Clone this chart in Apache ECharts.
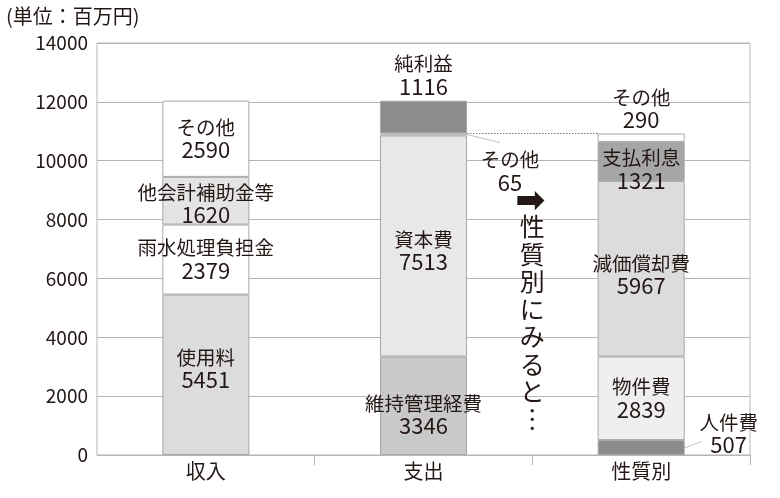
<!DOCTYPE html>
<html>
<head>
<meta charset="utf-8">
<script src="https://cdn.jsdelivr.net/npm/echarts@6/dist/echarts.min.js"></script>
<style>
  html, body { margin: 0; padding: 0; background: #fff; }
  #main { width: 780px; height: 498px; }
</style>
</head>
<body>
<div id="main"></div>
<script>
// データ（単位：百万円）
var categories = ['収入', '支出', '性質別'];
var incomeNames = ['使用料', '雨水処理負担金', '他会計補助金等', 'その他'];
var incomeValues = [5451, 2379, 1620, 2590];
var spendNames = ['維持管理経費', '資本費', 'その他', '純利益'];
var spendValues = [3346, 7513, 65, 1116];
var natureNames = ['人件費', '物件費', '減価償却費', '支払利息', 'その他'];
var natureValues = [507, 2839, 5967, 1321, 290];
var yMin = 0, yMax = 14000, yStep = 2000;

var incomeColors = ['#dcdcdc', '#ffffff', '#e4e4e4', '#ffffff'];
var spendColors = ['#c9c9c9', '#e8e8e8', '#ffffff', '#8c8c8c'];
var natureColors = ['#8c8c8c', '#efefef', '#dcdcdc', '#a6a6a6', '#ffffff'];

var FONT = '"Noto Sans CJK JP", "Noto Sans", sans-serif';
var INK = '#231815';

// 個別ラベル位置
var incomeLabels = {
  0: { offset: [0, -6] },
  2: { offset: [0, 3] }
};
var spendLabels = {
  0: { offset: [0, 9] },
  1: { offset: [0, 5] },
  2: { position: [130, 38], align: 'center', verticalAlign: 'middle' },
  3: { position: 'top', distance: 3 }
};
var natureLabels = {
  0: { position: [131, -6], align: 'center', verticalAlign: 'middle' },
  2: { offset: [0, 6] },
  3: { offset: [0, 8] },
  4: { position: 'top', distance: 2 }
};

function makeSeries(catIndex, names, values, colors, special) {
  return names.map(function (n, i) {
    var label = {
      show: true, position: 'inside', formatter: '{n|{a}}\n{v|{c}}',
      color: INK, fontFamily: FONT,
      rich: {
        n: { fontFamily: FONT, fontSize: 19.5, lineHeight: 22, color: INK },
        v: { fontFamily: FONT, fontSize: 22, lineHeight: 23, color: INK }
      }
    };
    var extra = special[i] || {};
    for (var k in extra) label[k] = extra[k];
    return {
      name: n,
      type: 'bar',
      stack: 'total',
      barWidth: '40%',
      itemStyle: { color: colors[i], borderColor: '#a8a8a8', borderWidth: 1 },
      label: label,
      data: categories.map(function (c, j) { return j === catIndex ? values[i] : '-'; })
    };
  });
}

var series = []
  .concat(makeSeries(0, incomeNames, incomeValues, incomeColors, incomeLabels))
  .concat(makeSeries(1, spendNames, spendValues, spendColors, spendLabels))
  .concat(makeSeries(2, natureNames, natureValues, natureColors, natureLabels));

var chart = echarts.init(document.getElementById('main'));
chart.setOption({
  animation: false,
  backgroundColor: '#fff',
  grid: { left: 97, right: 30, top: 43, bottom: 43, show: true, borderColor: '#b5b5b5', borderWidth: 1 },
  xAxis: {
    type: 'category',
    data: categories,
    axisLine: { lineStyle: { color: '#b5b5b5' } },
    axisTick: { show: true, length: 10, lineStyle: { color: '#b5b5b5' }, interval: function (i) { return i > 0; } },
    axisLabel: { color: INK, fontFamily: FONT, fontSize: 20, margin: 6 }
  },
  yAxis: {
    type: 'value',
    min: yMin, max: yMax, interval: yStep,
    axisLine: { show: false },
    axisTick: { show: false },
    splitLine: { lineStyle: { color: '#b5b5b5' } },
    axisLabel: {
      color: INK, fontFamily: FONT, fontSize: 19, margin: 9,
      formatter: function (v) { return String(v); }
    }
  },
  series: series
});

// 支出の「その他」上端から性質別へ点線、引出線、矢印と縦書き
var topVal = spendValues[0] + spendValues[1] + spendValues[2];
var p1 = chart.convertToPixel({ xAxisIndex: 0, yAxisIndex: 0 }, [categories[1], topVal]);
var p2 = chart.convertToPixel({ xAxisIndex: 0, yAxisIndex: 0 }, [categories[2], topVal]);
var p3 = chart.convertToPixel({ xAxisIndex: 0, yAxisIndex: 0 }, [categories[2], natureValues[0] / 2]);
var half = (p2[0] - p1[0]) * 0.4 / 2;
var midX = (p1[0] + p2[0]) / 2;
chart.setOption({
  graphic: [{
    type: 'text', left: 6, top: 6,
    style: { text: '(単位：百万円)', fill: INK, font: '20px ' + FONT }
  }, {
    type: 'line',
    shape: { x1: p1[0] + half, y1: p1[1], x2: p2[0] - half, y2: p1[1] },
    style: { stroke: '#777', lineWidth: 1, lineDash: [1.5, 1.5] }
  }, {
    type: 'line',
    shape: { x1: p1[0] + half, y1: p1[1] + 1, x2: p1[0] + half + 33, y2: p1[1] + 9 },
    style: { stroke: '#b0b0b0', lineWidth: 0.8 }
  }, {
    type: 'line',
    shape: { x1: p2[0] + half - 2, y1: p3[1] + 1, x2: p2[0] + half + 17, y2: p3[1] - 6 },
    style: { stroke: '#b0b0b0', lineWidth: 0.8 }
  }, {
    type: 'text', x: midX - 2, y: 203,
    style: { text: '➡', fill: INK, font: 'bold 36px "DejaVu Sans"', align: 'center', verticalAlign: 'middle' }
  }, {
    type: 'text', x: midX, y: 213,
    style: {
      text: '性\n質\n別\nに\nみ\nる\nと\n︙',
      fill: INK, font: '25px ' + FONT, lineHeight: 27.5, align: 'center', verticalAlign: 'top'
    }
  }]
});
</script>
</body>
</html>
